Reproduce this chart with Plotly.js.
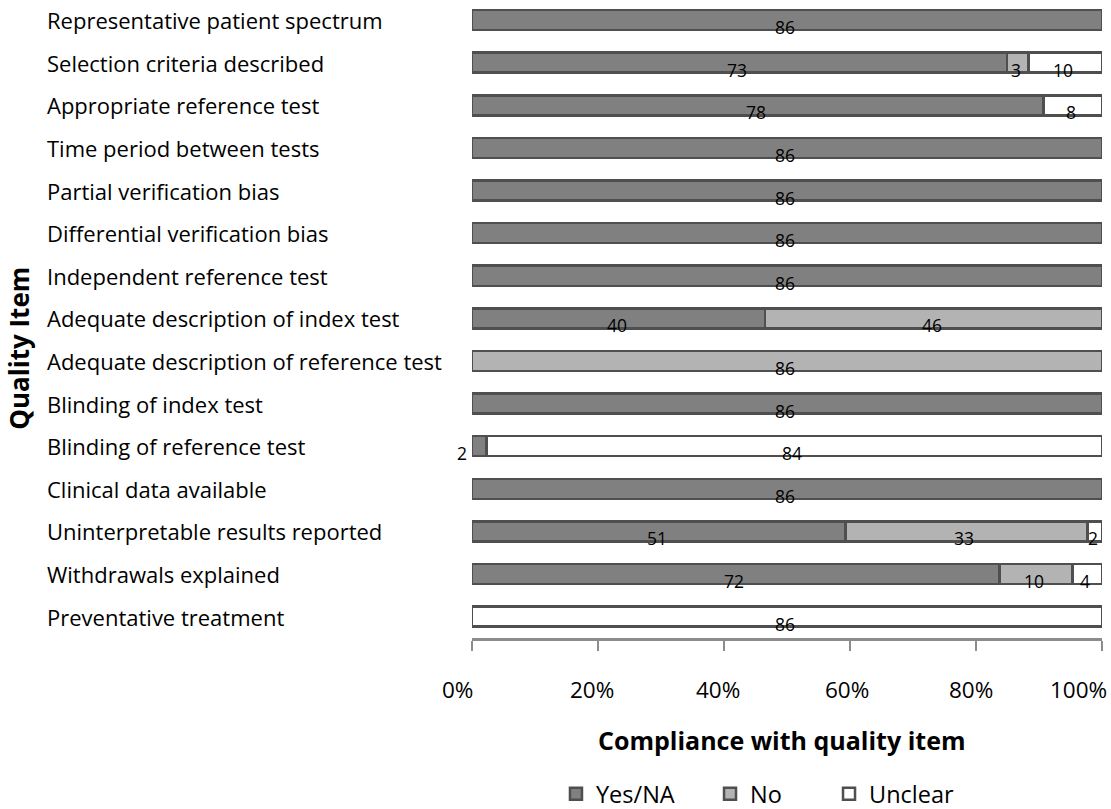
<!DOCTYPE html>
<html>
<head>
<meta charset="utf-8">
<script src="https://cdn.plot.ly/plotly-3.0.1.min.js"></script>
<style>
  html, body { margin: 0; padding: 0; background: #ffffff; }
  #chart { width: 1111px; height: 809px; }
</style>
</head>
<body>
<div id="chart"></div>
<script>
// Quality items assessed (top to bottom)
const categories = [
  "Representative patient spectrum",
  "Selection criteria described",
  "Appropriate reference test",
  "Time period between tests",
  "Partial verification bias",
  "Differential verification bias",
  "Independent reference test",
  "Adequate description of index test",
  "Adequate description of reference test",
  "Blinding of index test",
  "Blinding of reference test",
  "Clinical data available",
  "Uninterpretable results reported",
  "Withdrawals explained",
  "Preventative treatment"
];

// Number of studies per answer
const yesNA   = [86, 73, 78, 86, 86, 86, 86, 40, 0, 86, 2, 86, 51, 72, 0];
const no      = [0, 3, 0, 0, 0, 0, 0, 46, 86, 0, 0, 0, 33, 10, 0];
const unclear = [0, 10, 8, 0, 0, 0, 0, 0, 0, 0, 84, 0, 2, 4, 86];

const seriesNames = ["Yes/NA", "No", "Unclear"];
const seriesValues = [yesNA, no, unclear];

// Percentage axis ticks
const tickValues = [0, 0.2, 0.4, 0.6, 0.8, 1];
const tickLabels = ["0%", "20%", "40%", "60%", "80%", "100%"];

// Styling
const seriesColors = ["#808080", "#b3b3b3", "#ffffff"];
const legendIds = ["legend", "legend2", "legend3"];
const legendLeft = [0.1333, 0.3778, 0.5667];
const tickNudge = [-15, -6, -6, -3, -5, -24];
const FONT = "Open Sans, Noto Sans, sans-serif";
const EDGE = "#4f4f4f";

const traces = seriesValues.map((vals, i) => ({
  type: "bar",
  orientation: "h",
  name: seriesNames[i],
  legend: legendIds[i],
  y: categories,
  x: vals.map(v => (v > 0 ? v : null)),
  marker: { color: seriesColors[i], line: { color: EDGE, width: 2.5 } },
  width: 0.47,
  hoverinfo: "x+y+name"
}));

const annotations = [];

// Value labels centred in each segment (fractions of each row's total)
categories.forEach((cat, j) => {
  const total = seriesValues.reduce((s, arr) => s + arr[j], 0);
  let start = 0;
  seriesValues.forEach((arr, i) => {
    const v = arr[j];
    if (v > 0) {
      const frac = v / total;
      const small = i === 0 && frac < 0.03;
      annotations.push({
        xref: "x", yref: "y",
        x: small ? start : start + frac / 2,
        y: cat,
        xanchor: small ? "right" : "center",
        xshift: small ? -3 : -2,
        yshift: -7,
        text: String(v),
        showarrow: false,
        font: { family: FONT, size: 17.5, color: "#000000" }
      });
    }
    start += v / total;
  });
  // left-aligned category label
  annotations.push({
    xref: "paper", yref: "y",
    x: -0.678, y: cat,
    xanchor: "left", yanchor: "middle",
    text: cat,
    showarrow: false,
    font: { family: FONT, size: 22, color: "#000000" }
  });
});

// Percentage labels under the ticks
tickValues.forEach((tv, k) => {
  annotations.push({
    xref: "x", yref: "paper",
    x: tv, y: -0.0815,
    xanchor: "center", yanchor: "middle",
    xshift: tickNudge[k],
    text: tickLabels[k],
    showarrow: false,
    font: { family: FONT, size: 22.5, color: "#000000" }
  });
});

// Axis titles
annotations.push({
  xref: "paper", yref: "paper",
  x: 0.492, y: -0.16,
  xanchor: "center", yanchor: "middle",
  text: "<b>Compliance with quality item</b>",
  showarrow: false,
  font: { family: FONT, size: 25, color: "#000000" }
});
annotations.push({
  xref: "paper", yref: "paper",
  x: -0.7185, y: 0.454,
  xanchor: "center", yanchor: "middle",
  text: "<b>Quality Item</b>",
  textangle: -90,
  showarrow: false,
  font: { family: FONT, size: 26, color: "#000000" }
});

const legendStyle = (i) => ({
  orientation: "h",
  x: legendLeft[i], xanchor: "left",
  yref: "container",
  y: 0.0185, yanchor: "middle",
  font: { family: FONT, size: 23.5, color: "#000000" },
  itemwidth: 30,
  bgcolor: "rgba(0,0,0,0)"
});

const layout = {
  width: 1111,
  height: 809,
  margin: { l: 472, r: 9, t: 0, b: 171 },
  paper_bgcolor: "#ffffff",
  plot_bgcolor: "#ffffff",
  barmode: "stack",
  barnorm: "fraction",
  showlegend: true,
  xaxis: {
    range: [0, 1],
    tickmode: "array",
    tickvals: tickValues,
    showticklabels: false,
    automargin: false,
    showgrid: false,
    zeroline: false,
    showline: true,
    linecolor: "#8c8c8c",
    linewidth: 2.5,
    ticks: "outside",
    ticklen: 10,
    tickwidth: 2,
    tickcolor: "#8c8c8c",
    fixedrange: true
  },
  yaxis: {
    type: "category",
    range: [14.5, -0.47],
    automargin: false,
    showticklabels: false,
    showgrid: false,
    zeroline: false,
    showline: false,
    ticks: "",
    fixedrange: true
  },
  legend: legendStyle(0),
  legend2: legendStyle(1),
  legend3: legendStyle(2),
  annotations: annotations
};

Plotly.newPlot("chart", traces, layout, { displayModeBar: false });
</script>
</body>
</html>
